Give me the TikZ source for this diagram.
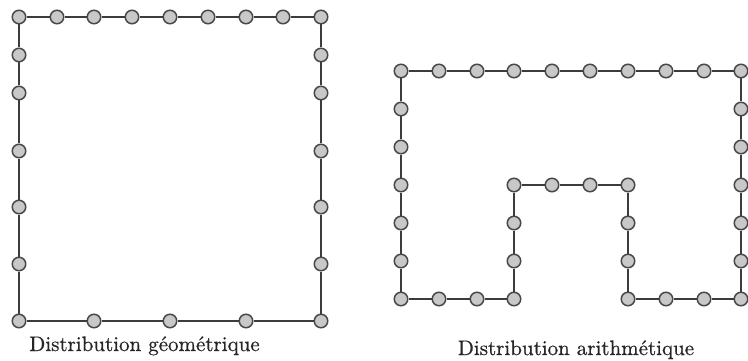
\documentclass[tikz,border=0pt]{standalone}
\usepackage{fontspec}
\newfontfamily\labfont{lmroman10-regular.otf}[FakeBold=0.6]
\definecolor{linec}{HTML}{3C3C3C}
\definecolor{fillc}{HTML}{C8C8C8}
\definecolor{drawc}{HTML}{484848}
\tikzset{
  dot/.style={circle, draw=drawc, fill=fillc, line width=1.5pt, minimum size=13.5pt, inner sep=0pt},
  link/.style={draw=linec, line width=2pt},
  lab/.style={font=\labfont\fontsize{21}{25}\selectfont, anchor=base, text=black!85, inner sep=0pt}
}
\begin{document}
\begin{tikzpicture}[x=1pt,y=-1pt]
\useasboundingbox (0,0) rectangle (748,361);
% left: geometric distribution
\foreach \x/\y [count=\k] in {
  19/17, 57/17, 94/17, 132/17, 170/17, 208/17, 246/17, 283/17, 321/17,
  321/55, 321/93, 321/151, 321/207, 321/264, 321/321,
  246/321, 170/321, 94/321, 19/321,
  19/264, 19/207, 19/151, 19/93, 19/55}
  \node[dot] (L\k) at (\x,\y) {};
\foreach \a [remember=\a as \b (initially 24)] in {1,...,24}
  \draw[link] (L\b) -- (L\a);
% right: arithmetic distribution
\foreach \i/\j [count=\k] in {
  0/0, 1/0, 2/0, 3/0, 4/0, 5/0, 6/0, 7/0, 8/0, 9/0,
  9/1, 9/2, 9/3, 9/4, 9/5, 9/6,
  8/6, 7/6, 6/6,
  6/5, 6/4, 6/3,
  5/3, 4/3, 3/3,
  3/4, 3/5, 3/6,
  2/6, 1/6, 0/6,
  0/5, 0/4, 0/3, 0/2, 0/1}
  \node[dot] (R\k) at ({round(401+37.83*\i)}, 71+38*\j) {};
\foreach \a [remember=\a as \b (initially 36)] in {1,...,36}
  \draw[link] (R\b) -- (R\a);
% labels
\node[lab] (labG) at (144.5,351) {Distribution géométrique};
\node[lab] (labA) at (576,355) {Distribution arithmétique};
\end{tikzpicture}
\end{document}
